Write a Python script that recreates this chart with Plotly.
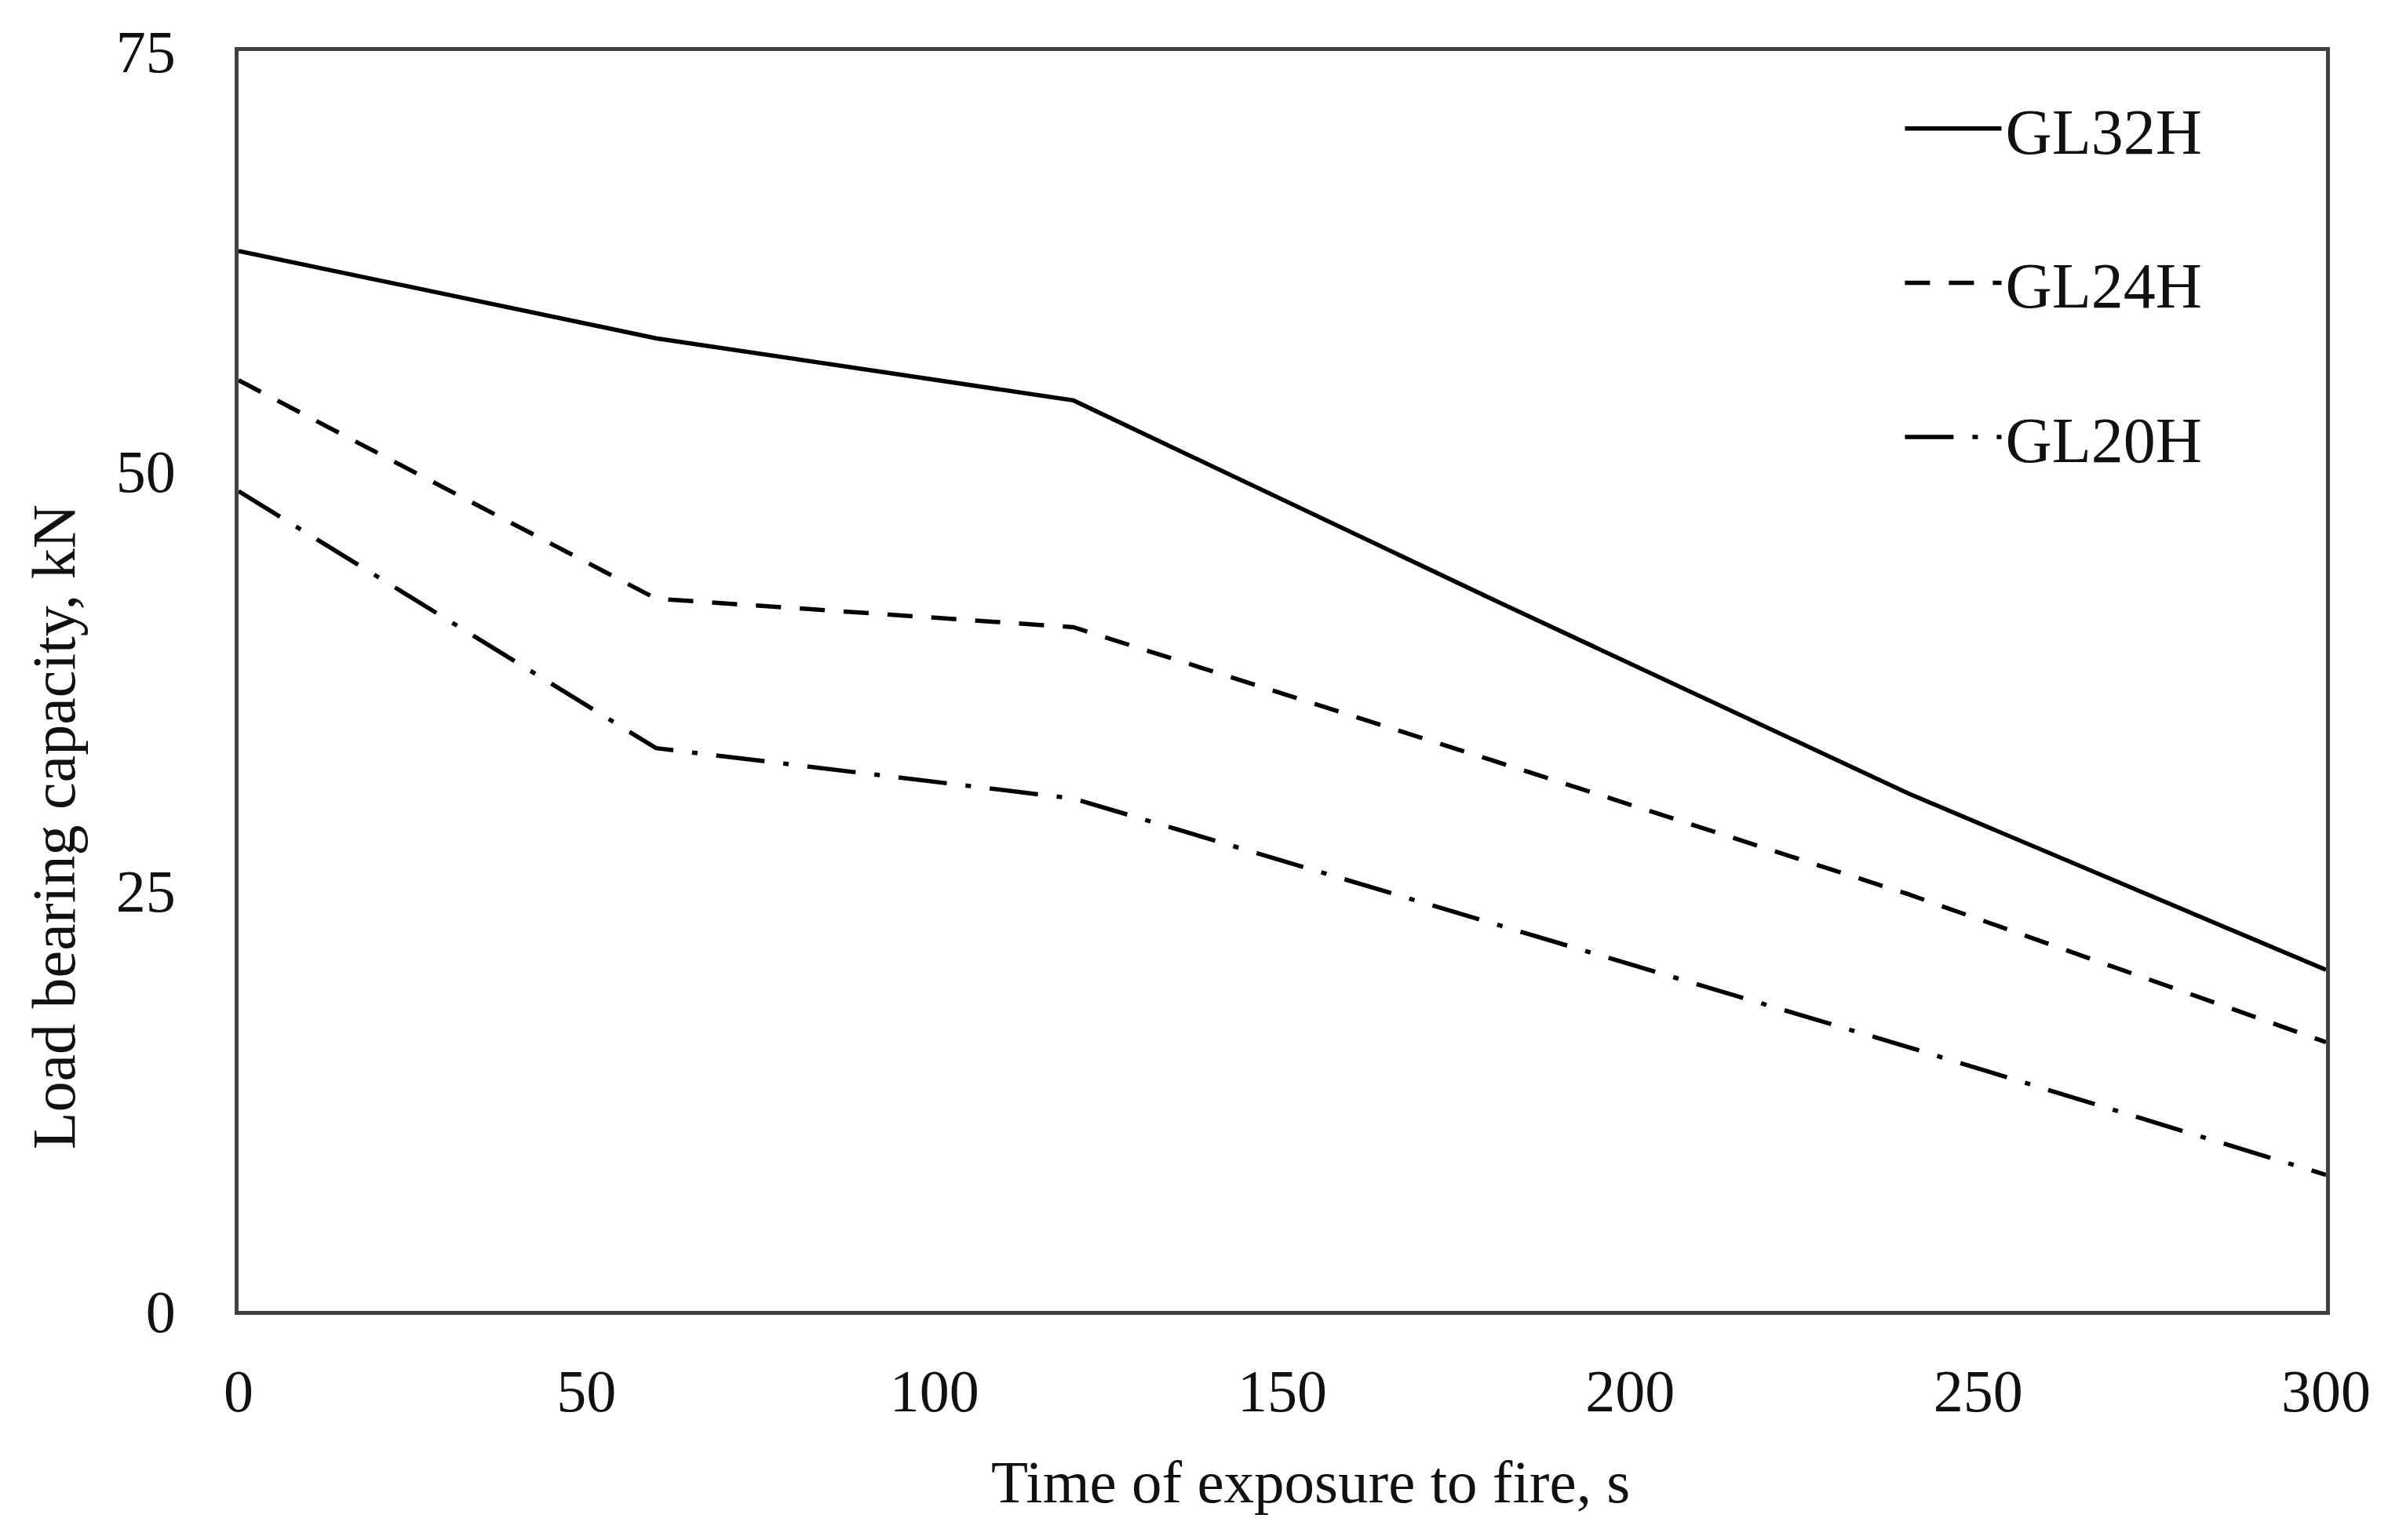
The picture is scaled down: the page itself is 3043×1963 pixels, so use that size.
import plotly.graph_objects as go

time_s = [0, 60, 120, 180, 240, 300]
gl32h = [63.1, 57.9, 54.2, 42.4, 30.8, 20.3]
gl24h = [55.4, 42.4, 40.7, 32.8, 24.8, 16.0]
gl20h = [48.8, 33.5, 30.5, 23.1, 15.7, 8.1]

series_names = ["GL32H", "GL24H", "GL20H"]
x_ticks = [0, 50, 100, 150, 200, 250, 300]
y_ticks = [0, 25, 50, 75]

serif = "Liberation Serif, Times New Roman, serif"

fig = go.Figure()
styles = [
    dict(color="black", width=5.5, dash="solid"),
    dict(color="black", width=5.5, dash="32px,24px"),
    dict(color="black", width=5.5, dash="62px,24px,7px,24px"),
]
for name, ys, st, g in zip(series_names, [gl32h, gl24h, gl20h], styles, ["a", "b", "c"]):
    fig.add_trace(go.Scatter(x=time_s, y=ys, mode="lines", name=name,
                             line=st, legendgroup=g))

fig.update_layout(
    width=3043, height=1963,
    margin=dict(l=296, r=87, t=57, b=300),
    paper_bgcolor="white", plot_bgcolor="white",
    showlegend=True,
    legend=dict(x=0.7964, y=0.9757, xanchor="left", yanchor="top",
                font=dict(family=serif, size=82, color="#111111"),
                itemwidth=123, tracegroupgap=87,
                bgcolor="rgba(0,0,0,0)"),
    annotations=[
        dict(text="Time of exposure to fire, s", xref="paper", yref="paper",
             x=0.5137, y=-0.1355, xanchor="center", yanchor="middle", showarrow=False,
             font=dict(family=serif, size=77, color="#111111")),
        dict(text="Load bearing capacity, kN", xref="paper", yref="paper",
             x=-0.0885, y=0.3838, xanchor="center", yanchor="middle", showarrow=False,
             textangle=-90, font=dict(family=serif, size=78, color="#111111")),
    ],
)
fig.update_xaxes(range=[0, 300], tickvals=x_ticks, showgrid=False, zeroline=False,
                 showline=True, linecolor="#404040", linewidth=5, mirror=True,
                 ticks="", ticklabelstandoff=32,
                 tickfont=dict(family=serif, size=76, color="#111111"))
fig.update_yaxes(range=[0, 75], tickvals=y_ticks, showgrid=False, zeroline=False,
                 showline=True, linecolor="#404040", linewidth=5, mirror=True,
                 ticks="", ticklabelstandoff=60,
                 tickfont=dict(family=serif, size=76, color="#111111"))

fig.write_html("out.html")
